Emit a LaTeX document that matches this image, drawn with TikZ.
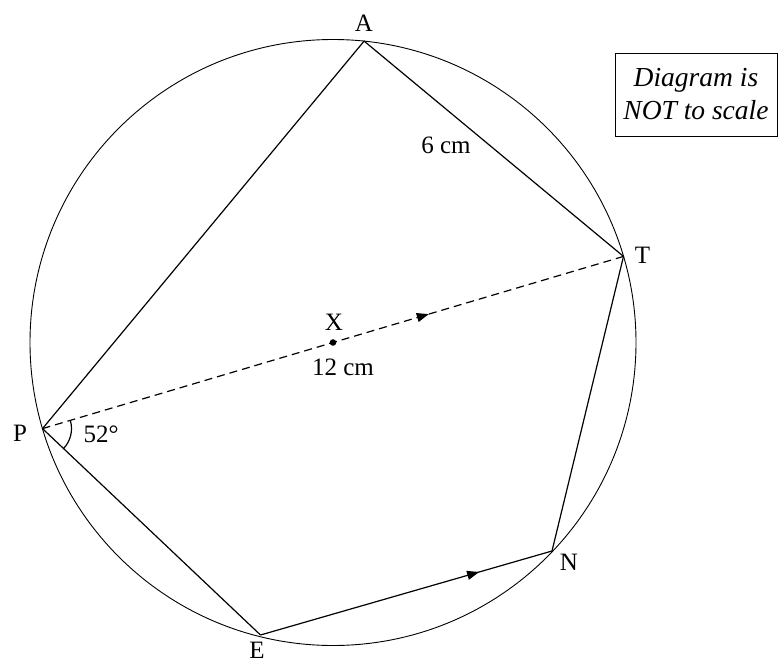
\documentclass[tikz,border=0pt]{standalone}
\usepackage{fontspec}
\setmainfont{Liberation Serif}
\usetikzlibrary{decorations.markings,arrows.meta,calc}
\begin{document}
\begin{tikzpicture}[x=1pt,y=-1pt,
  edge/.style={line width=1.2pt},
  lbl/.style={font=\fontsize{25}{28}\selectfont, inner sep=0pt},
  midarrow/.style={postaction={decorate},decoration={markings,
     mark=at position #1 with {\arrow{Triangle[length=12pt,width=9pt]}}}}]
\useasboundingbox (0,0) rectangle (779,664);
\coordinate (X) at (333,342.5);
\draw[line width=0.9pt] (X) circle[radius=303];
\coordinate (A) at (364.1,41.1);
\coordinate (T) at (623.5,256.4);
\coordinate (P) at (42.5,428.6);
\coordinate (E) at (260.5,635);
\coordinate (N) at (552,551);
\draw[edge,line join=miter] (P) -- (A) -- (T) -- (N);
\draw[edge] (P) -- (E);
\draw[edge,midarrow=0.75] (E) -- (N);
\draw[edge,dash pattern=on 8pt off 5pt,midarrow=0.665] (P) -- (T);
\fill (X) circle[radius=3.3];
\draw[edge] ($(P)+(16.5:29 and -29)$) arc[start angle=-16.5,end angle=43.4,radius=29];
\node[lbl] (lA) at (364,23.5) {A};
\node[lbl] (lT) at (642.5,255) {T};
\node[lbl] (lP) at (20,433) {P};
\node[lbl] (lE) at (257,650) {E};
\node[lbl] (lN) at (569,562) {N};
\node[lbl] (lX) at (334,322) {X};
\node[lbl] (l12) at (343,367) {12 cm};
\node[lbl] (l6) at (446,145.5) {6 cm};
\node[lbl] (l52) at (101,434) {52°};
\node[draw,line width=0.9pt,minimum width=162pt,minimum height=83pt,inner sep=0pt,
  font=\fontsize{27.5}{33}\selectfont\itshape,align=center] (box) at (696,94.5)
  {Diagram is\\NOT to scale};
\end{tikzpicture}
\end{document}
